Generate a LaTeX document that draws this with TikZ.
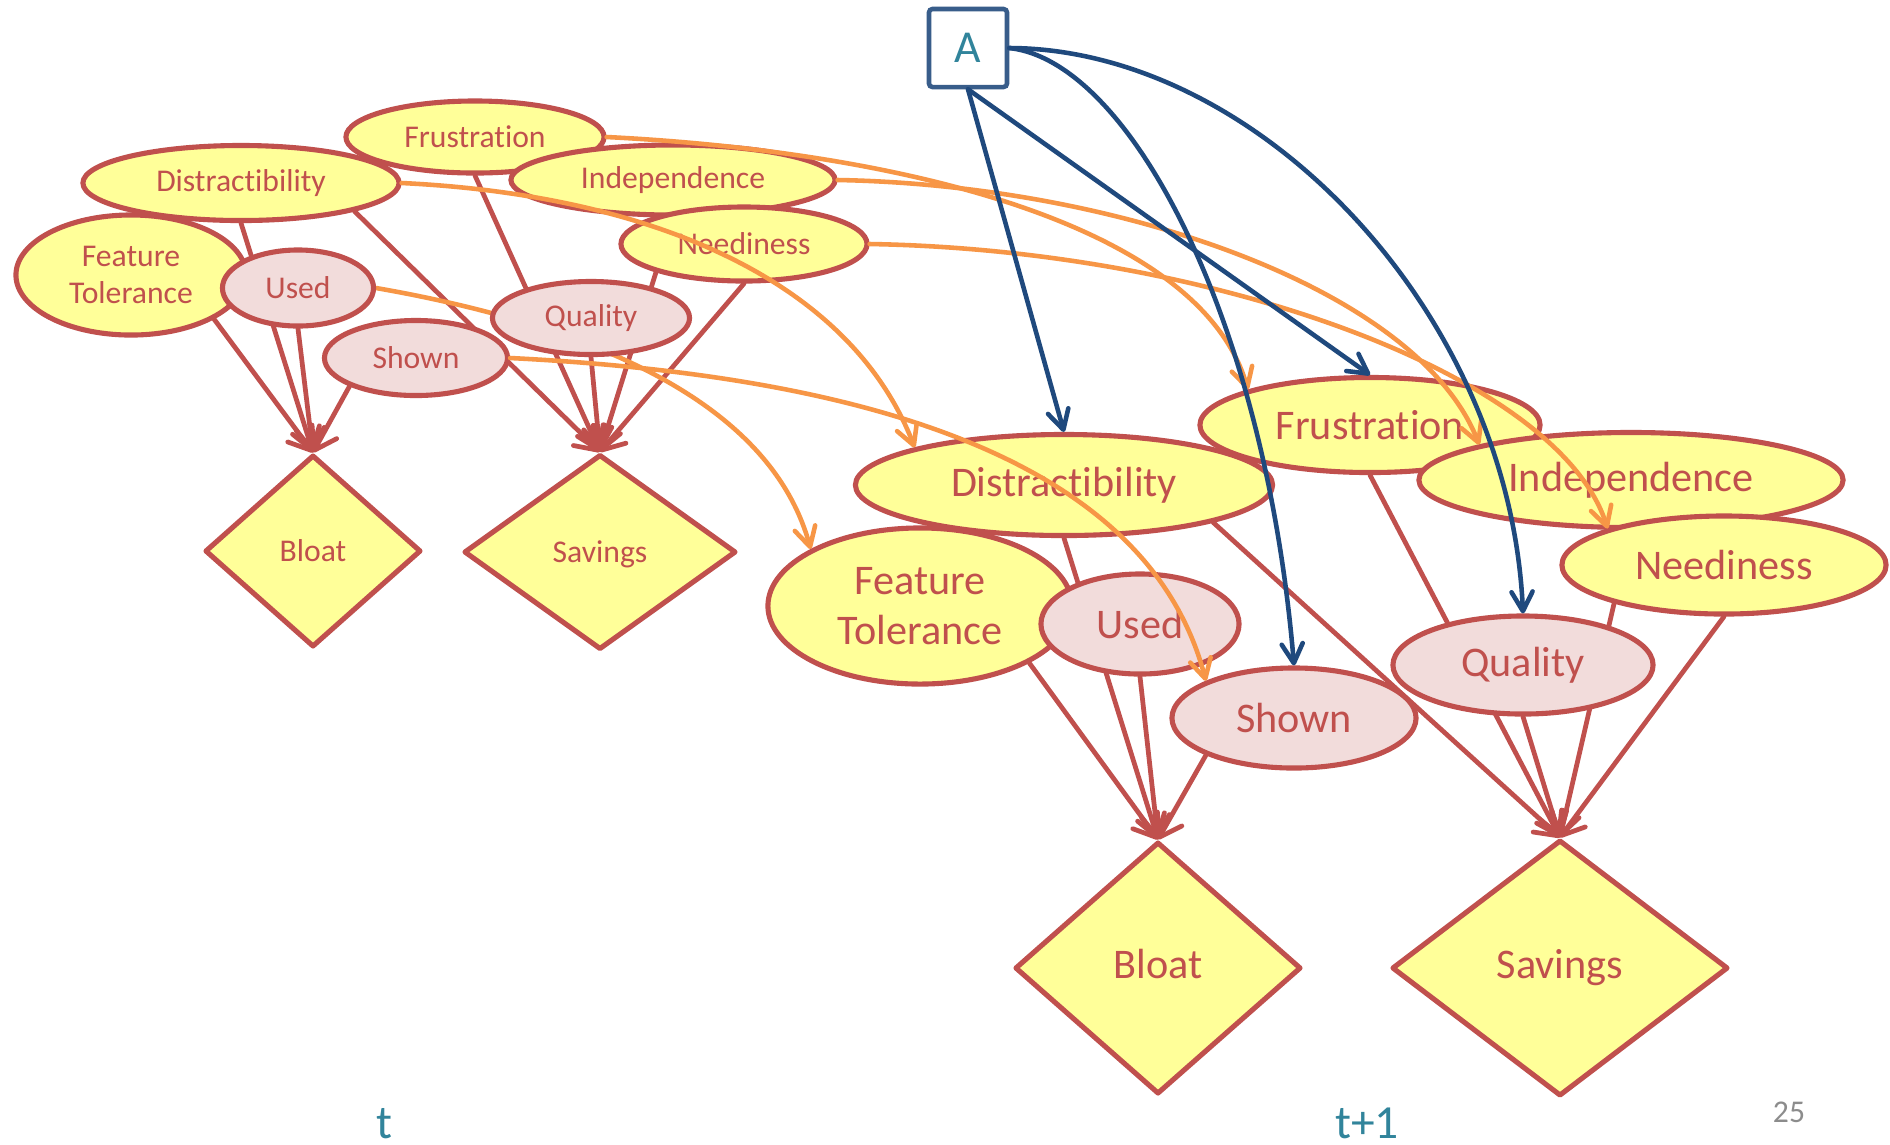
\documentclass[tikz,border=0pt]{standalone}
\usepackage{fontspec}
\setmainfont{Carlito}[Ligatures=NoCommon]
\usetikzlibrary{shapes.geometric, arrows.meta, calc}
\definecolor{myred}{HTML}{C0504D}
\definecolor{myyellow}{HTML}{FFFF99}
\definecolor{mypink}{HTML}{F2DCDB}
\definecolor{myorange}{HTML}{F79646}
\definecolor{myblue}{HTML}{1F497D}
\definecolor{boxblue}{HTML}{385D8A}
\definecolor{myteal}{HTML}{31849B}
\definecolor{mygray}{HTML}{8C8C8C}
\pgfdeclarelayer{back}
\pgfdeclarelayer{bg}
\pgfsetlayers{back,bg,main}
\tikzset{
 ynode/.style={ellipse, draw=myred, fill=myyellow, line width=1.45pt, inner sep=0pt, text=myred, align=center},
 pnode/.style={ynode, fill=mypink},
 dnode/.style={diamond, draw=myred, fill=myyellow, line width=1.45pt, inner sep=0pt, text=myred, line join=round, text height=1.5ex, text depth=0.3ex},
 lfont/.style={font=\fontsize{9}{10.6}\selectfont},
 rfont/.style={font=\fontsize{12}{14}\selectfont},
 redarr/.style={draw=myred, line width=1.35pt, line cap=round, -{Straight Barb[length=6pt,width=8pt,round]}},
 orarr/.style={draw=myorange, line width=1.3pt, line cap=round, -{Straight Barb[length=5.5pt,width=6pt,round]}},
 bluarr/.style={draw=myblue, line width=1.3pt, line cap=round, -{Straight Barb[length=5.5pt,width=6pt,round]}},
 abox/.style={rectangle, draw=boxblue, fill=white, line width=1.3pt, rounded corners=1pt, minimum width=0.78cm, minimum height=0.78cm, inner sep=0pt, text=myteal, font=\fontsize{13}{15}\selectfont},
 slabel/.style={anchor=base, text=myteal, font=\fontsize{13.5}{15}\selectfont},
 pagenum/.style={anchor=base, text=mygray, font=\fontsize{9}{10}\selectfont}
}
\begin{document}
\begin{tikzpicture}[x=0.01cm,y=-0.01cm]
\begin{pgfonlayer}{back}
\fill[white] (0,0) rectangle (1890,1144);
\end{pgfonlayer}
\useasboundingbox (0,0) rectangle (1890,1144);

% ---- slice t ----
\node[ynode, lfont, minimum width=2.58cm, minimum height=0.72cm] (F1) at (475,137) {Frustration};
\node[ynode, lfont, minimum width=3.16cm, minimum height=0.75cm] (D1) at (241,183) {Distractibility};
\node[ynode, lfont, minimum width=3.24cm, minimum height=0.70cm] (I1) at (673,180) {Independence};
\node[ynode, lfont, minimum width=2.46cm, minimum height=0.74cm] (N1) at (744,244) {Neediness};
\node[ynode, lfont, minimum width=2.30cm, minimum height=1.20cm] (T1) at (131,275) {Feature\\Tolerance};
\node[pnode, lfont, minimum width=1.51cm, minimum height=0.76cm] (U1) at (298,288) {Used};
\node[pnode, lfont, minimum width=1.83cm, minimum height=0.75cm] (S1) at (416,358) {Shown};
\node[pnode, lfont, minimum width=1.97cm, minimum height=0.73cm] (Q1) at (591,318) {Quality};
\node[dnode, lfont, minimum width=2.16cm, minimum height=1.92cm] (B1) at (313,551) {Bloat};
\node[dnode, lfont, minimum width=2.72cm, minimum height=1.95cm] (V1) at (600,552) {Savings};

% ---- slice t+1 ----
\node[abox] (A) at (968,48) {A};
\node[ynode, rfont, minimum width=3.40cm, minimum height=0.95cm] (F2) at (1370,425) {Frustration};
\node[ynode, rfont, minimum width=4.17cm, minimum height=1.01cm] (D2) at (1064,485) {Distractibility};
\node[ynode, rfont, minimum width=4.24cm, minimum height=0.95cm] (I2) at (1631,480) {Independence};
\node[ynode, rfont, minimum width=3.24cm, minimum height=0.98cm] (N2) at (1724,565) {Neediness};
\node[ynode, rfont, minimum width=3.04cm, minimum height=1.56cm] (T2) at (920,606) {Feature\\Tolerance};
\node[pnode, rfont, minimum width=1.98cm, minimum height=1.00cm] (U2) at (1140,624) {Used};
\node[pnode, rfont, minimum width=2.44cm, minimum height=1.00cm] (S2) at (1294,718) {Shown};
\node[pnode, rfont, minimum width=2.60cm, minimum height=0.98cm] (Q2) at (1523,665) {Quality};
\node[dnode, rfont, minimum width=2.86cm, minimum height=2.52cm] (B2) at (1158,968) {Bloat};
\node[dnode, rfont, minimum width=3.36cm, minimum height=2.56cm] (V2) at (1560,968) {Savings};

% ---- labels ----
\node[slabel] (lt) at (384,1138) {t};
\node[slabel] (lt1) at (1367,1138) {t+1};
\node[pagenum] (pg) at (1789,1122) {25};

% ---- intra-slice edges (behind nodes) ----
\begin{pgfonlayer}{bg}
\draw[redarr] (T1.south east) -- (B1.north);
\draw[redarr] (D1.south) -- (B1.north);
\draw[redarr] (U1.south) -- (B1.north);
\draw[redarr] (S1.south west) -- (B1.north);
\draw[redarr] (D1.south east) -- (V1.north);
\draw[redarr] (F1.south) -- (V1.north);
\draw[redarr] (I1.south) -- (V1.north);
\draw[redarr] (N1.south) -- (V1.north);
\draw[redarr] (Q1.south) -- (V1.north);
\draw[redarr] (T2.south east) -- (B2.north);
\draw[redarr] (D2.south) -- (B2.north);
\draw[redarr] (U2.south) -- (B2.north);
\draw[redarr] (S2.south west) -- (B2.north);
\draw[redarr] (D2.south east) -- (V2.north);
\draw[redarr] (F2.south) -- (V2.north);
\draw[redarr] (I2.south) -- (V2.north);
\draw[redarr] (N2.south) -- (V2.north);
\draw[redarr] (Q2.south) -- (V2.north);
\draw[orarr] (U1.east) .. controls (577,323) and (769,396) .. (T2.north west);
\end{pgfonlayer}

% ---- temporal edges ----
\draw[orarr] (F1.east) .. controls (906,152) and (1201,226) .. (F2.north west);
\draw[orarr] (I1.east) .. controls (1120,185) and (1419,290) .. (I2.north west);
\draw[orarr] (N1.east) .. controls (1218,250) and (1560,377) .. (N2.north west);
\draw[orarr] (D1.east) .. controls (651,195) and (850,280) .. (D2.north west);
\draw[orarr] (S1.east) .. controls (910,378) and (1153,478) .. (S2.north west);

% ---- action edges ----
\draw[bluarr] (A.south) -- (D2.north);
\draw[bluarr] (A.south) -- (F2.north);
\draw[bluarr] (A.east) .. controls (1129,61) and (1265,317) .. (S2.north);
\draw[bluarr] (A.east) .. controls (1259,49) and (1510,314) .. (Q2.north);
\end{tikzpicture}
\end{document}
